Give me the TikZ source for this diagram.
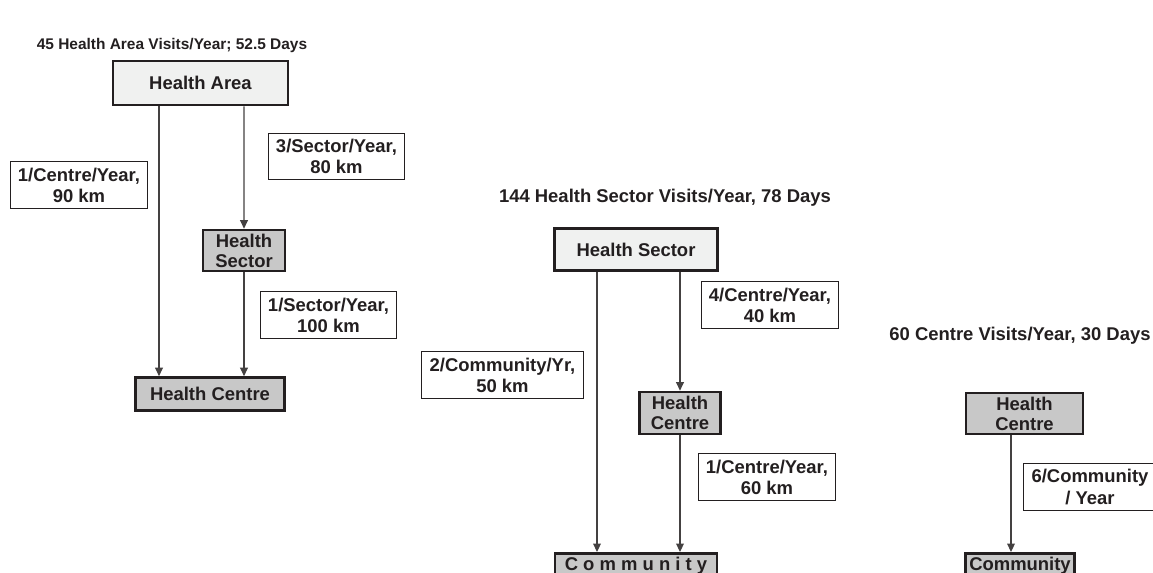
\documentclass[tikz,border=0pt]{standalone}
\usepackage{fontspec}
\setmainfont{Liberation Sans}
\usetikzlibrary{arrows.meta}
\definecolor{ink}{HTML}{231F20}
\definecolor{boxlight}{HTML}{F0F1F0}
\definecolor{boxgray}{HTML}{C8C8C8}
\begin{document}
\begin{tikzpicture}[x=0.02cm, y=-0.02cm, text=ink,
    font=\fontsize{10.5}{11.3}\selectfont\bfseries,
    main/.style = {draw=ink, line width=1.5pt, align=center, inner sep=2pt},
    light/.style = {main, fill=boxlight},
    dark/.style = {main, fill=boxgray},
    lab/.style = {draw=ink, line width=0.6pt, fill=white, align=center, inner xsep=4.5pt, inner ysep=3.5pt,
      font=\fontsize{10.5}{12}\selectfont\bfseries},
    arr/.style = {draw=ink!85, line width=0.6pt, -{Triangle[length=4.8pt,width=4.4pt]}}]
\useasboundingbox (0,0) rectangle (1153,573);

% Health Area level
\node[font=\fontsize{8.8}{10}\selectfont\bfseries] (t1) at (172,46) {45 Health Area Visits/Year; 52.5 Days};
\node[light, minimum width=3.5cm, minimum height=0.88cm] (area) at (200.5,83) {Health Area};
\node[dark, minimum width=1.64cm, minimum height=0.82cm] (sec1) at (244,250.5) {Health\\Sector};
\node[dark, minimum width=2.98cm, minimum height=0.66cm] (cen1) at (210,394) {Health Centre};
\node[lab] (l1a) at (79,185) {1/Centre/Year,\\90 km};
\node[lab] (l1b) at (336.5,156.5) {3/Sector/Year,\\80 km};
\node[lab] (l1c) at (328.5,315) {1/Sector/Year,\\100 km};
\draw[arr] ([xshift=-0.83cm]area.south) -- ([xshift=-0.83cm]area.south |- cen1.north);
\draw[arr] ([xshift=0.87cm]area.south) -- (sec1.north);
\draw[arr] (sec1) -- (sec1 |- cen1.north);

% Health Sector level
\node (t2) at (665,198) {144 Health Sector Visits/Year, 78 Days};
\node[light, minimum width=3.26cm, minimum height=0.84cm] (sec2) at (636,249.5) {Health Sector};
\node[dark, minimum width=1.62cm, minimum height=0.84cm] (cen2) at (680,413) {Health\\Centre};
\node[dark, anchor=north, minimum width=3.24cm] (com2) at (636,552) {C o m m u n i t y};
\node[lab] (l2a) at (770,305) {4/Centre/Year,\\40 km};
\node[lab] (l2b) at (502.5,375) {2/Community/Yr,\\50 km};
\node[lab] (l2c) at (767,477) {1/Centre/Year,\\60 km};
\draw[arr] ([xshift=-0.78cm]sec2.south) -- ([xshift=-0.78cm]sec2.south |- com2.north);
\draw[arr] ([xshift=0.88cm]sec2.south) -- ([xshift=0.88cm]sec2.south |- cen2.north);
\draw[arr] (cen2) -- (cen2 |- com2.north);

% Health Centre level
\node (t3) at (1020,336) {60 Centre Visits/Year, 30 Days};
\node[dark, minimum width=2.34cm, minimum height=0.82cm] (cen3) at (1024.5,413.5) {Health\\Centre};
\node[dark, anchor=north, minimum width=2.14cm] (com3) at (1020,552) {Community};
\node[lab] (l3) at (1090,487) {6/Community\\/ Year};
\draw[arr] ([xshift=-0.27cm]cen3.south) -- ([xshift=-0.27cm]cen3.south |- com3.north);
\end{tikzpicture}
\end{document}
